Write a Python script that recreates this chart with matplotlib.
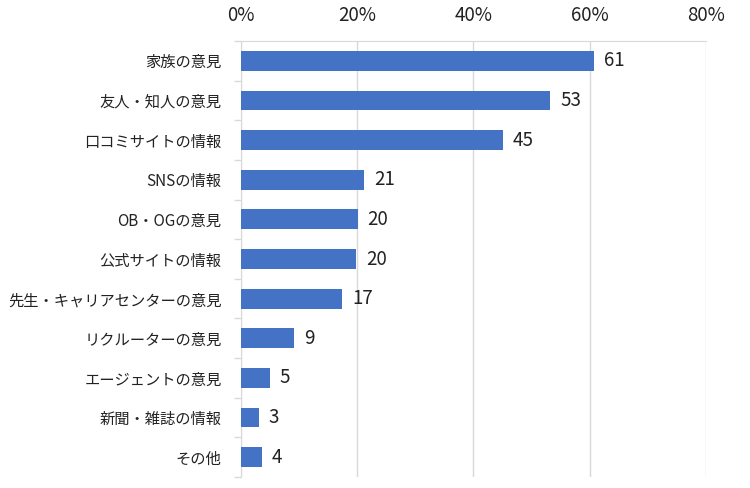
import matplotlib
matplotlib.use('Agg')
import matplotlib.pyplot as plt
import numpy as np
from matplotlib.ticker import FixedLocator, PercentFormatter

plt.rcParams['font.family'] = ['Noto Sans CJK JP', 'DejaVu Sans']

# データ
categories = ['家族の意見', '友人・知人の意見', '口コミサイトの情報', 'SNSの情報', 'OB・OGの意見',
              '公式サイトの情報', '先生・キャリアセンターの意見', 'リクルーターの意見',
              'エージェントの意見', '新聞・雑誌の情報', 'その他']
values = [60.8, 53.2, 45.1, 21.2, 20.1, 19.8, 17.4, 9.1, 5.0, 3.1, 3.6]
labels = ['61', '53', '45', '21', '20', '20', '17', '9', '5', '3', '4']

bar_color = '#4472C4'
grid_color = '#d9d9d9'

fig = plt.figure(figsize=(7.5, 4.88), dpi=100)
ax = fig.add_axes([0.3213, 0.0225, 0.62, 0.8935])

y = np.arange(len(categories))
ax.barh(y, values, height=0.5, color=bar_color, zorder=3)

for yi, v, lab in zip(y, values, labels):
    ax.text(v + 1.7, yi, lab, va='center', ha='left', fontsize=13.5, color='#222222')

ax.set_xlim(0, 80)
ax.set_ylim(len(categories) - 0.5, -0.5)
ax.set_xticks([0, 20, 40, 60, 80])
ax.xaxis.set_major_formatter(PercentFormatter(decimals=0))
ax.xaxis.tick_top()
ax.tick_params(axis='x', length=0, labelsize=13.5, pad=11, colors='#222222')

ax.set_yticks(y)
ax.set_yticklabels(categories, fontsize=11)
ax.tick_params(axis='y', length=0, pad=14, colors='#222222')
ax.yaxis.set_minor_locator(FixedLocator(np.arange(-0.5, len(categories), 1)))
ax.tick_params(axis='y', which='minor', length=5, color=grid_color, width=1)

ax.grid(axis='x', color=grid_color, linewidth=1, zorder=0)
for s in ['left', 'top']:
    ax.spines[s].set_color(grid_color)
ax.spines['right'].set_visible(False)
ax.spines['bottom'].set_visible(False)

plt.savefig('out.png', dpi=100)
